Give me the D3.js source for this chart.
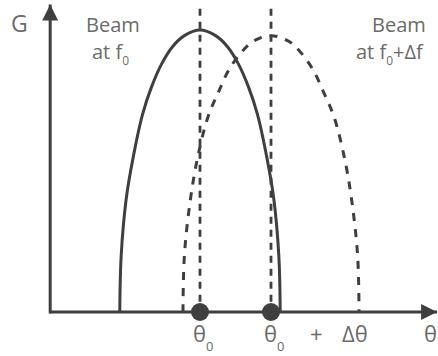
<!DOCTYPE html>
<html>
<head>
<meta charset="utf-8">
<script src="https://cdn.jsdelivr.net/npm/d3@7"></script>
<style>
  body { margin: 0; background: #fff; }
  svg { display: block; }
  text { font-family: "Open Sans", "DejaVu Sans", sans-serif; fill: #6b6b6b; }
</style>
</head>
<body>
<div id="chart"></div>
<script>
// beam at f0 (solid) - theta in units of delta theta, theta0 = 0
var beamTheta = [-1.13, -1.11, -1.04, -0.94, -0.81, -0.68, -0.54, -0.39, -0.22, 0, 0.22, 0.39, 0.54, 0.68, 0.81, 0.94, 1.04, 1.11, 1.13];
var beamGain  = [0, 0.2, 0.4, 0.55, 0.7, 0.8, 0.88, 0.94, 0.98, 1.0, 0.98, 0.94, 0.88, 0.8, 0.7, 0.55, 0.4, 0.2, 0];

// beam at f0 + delta f (dashed)
var shiftTheta = [-0.24, -0.22, -0.14, -0.04, 0.11, 0.26, 0.41, 0.58, 0.75, 1.0, 1.25, 1.42, 1.59, 1.74, 1.89, 2.04, 2.14, 2.22, 2.24];
var shiftGain  = [0, 0.2, 0.39, 0.54, 0.69, 0.78, 0.86, 0.92, 0.96, 0.98, 0.96, 0.92, 0.86, 0.78, 0.69, 0.54, 0.39, 0.2, 0];

// beam directions
var peakTheta = [0, 1];
var tickLabels = ["θ", "θ"];

var width = 438, height = 356;

var x = d3.scaleLinear().domain([0, 1]).range([200, 271]);
var y = d3.scaleLinear().domain([0, 1]).range([312, 30]);

var thetaMin = -2.11, thetaMax = 3.34, gainMax = 1.08;
var ink = "#3f3f3f";

var svg = d3.select("#chart").append("svg")
    .attr("width", width)
    .attr("height", height);

// arrow heads
var defs = svg.append("defs");
defs.append("marker")
    .attr("id", "arrow")
    .attr("viewBox", "0 0 10 10")
    .attr("refX", 10).attr("refY", 5)
    .attr("markerWidth", 17).attr("markerHeight", 16)
    .attr("markerUnits", "userSpaceOnUse")
    .attr("orient", "auto")
    .append("path")
    .attr("d", "M0,0 L10,5 L0,10 Z")
    .attr("fill", ink);

// axes
svg.append("line")
    .attr("x1", x(thetaMin)).attr("y1", y(0))
    .attr("x2", x(thetaMax)).attr("y2", y(0))
    .attr("stroke", ink).attr("stroke-width", 3)
    .attr("marker-end", "url(#arrow)");

svg.append("line")
    .attr("x1", x(thetaMin)).attr("y1", y(0) + 1.5)
    .attr("x2", x(thetaMin)).attr("y2", y(gainMax + 0.01))
    .attr("stroke", ink).attr("stroke-width", 3)
    .attr("marker-end", "url(#arrow)");

// vertical dotted lines at beam peaks
svg.selectAll(".peak")
    .data(peakTheta)
    .enter().append("line")
    .attr("class", "peak")
    .attr("x1", function(d) { return x(d); })
    .attr("x2", function(d) { return x(d); })
    .attr("y1", y(1.075))
    .attr("y2", y(0))
    .attr("stroke", ink)
    .attr("stroke-width", 2.8)
    .attr("stroke-dasharray", "7,6");

var line = d3.line()
    .x(function(d) { return x(d[0]); })
    .y(function(d) { return y(d[1]); })
    .curve(d3.curveCatmullRom.alpha(0.5));

svg.append("path")
    .datum(d3.zip(beamTheta, beamGain))
    .attr("d", line)
    .attr("fill", "none")
    .attr("stroke", ink)
    .attr("stroke-width", 3);

svg.append("path")
    .datum(d3.zip(shiftTheta, shiftGain))
    .attr("d", line)
    .attr("fill", "none")
    .attr("stroke", ink)
    .attr("stroke-width", 3)
    .attr("stroke-dasharray", "8,8");

// dots on the theta axis
svg.selectAll(".dot")
    .data(peakTheta)
    .enter().append("circle")
    .attr("class", "dot")
    .attr("cx", function(d) { return x(d); })
    .attr("cy", y(0))
    .attr("r", 9)
    .attr("fill", ink);

// tick labels
var ticks = svg.selectAll(".tick")
    .data(peakTheta)
    .enter().append("text")
    .attr("class", "tick")
    .attr("x", function(d) { return x(d) - 7; })
    .attr("y", 342)
    .style("font-size", "22px");
ticks.append("tspan").text(function(d, i) { return tickLabels[i]; });
ticks.append("tspan")
    .attr("dy", 9)
    .style("font-size", "13px")
    .text("0");

svg.append("text")
    .attr("x", x(1) + 39).attr("y", 342)
    .style("font-size", "22px")
    .text("+");
svg.append("text")
    .attr("x", x(1) + 71).attr("y", 342)
    .style("font-size", "22px")
    .text("Δθ");
svg.append("text")
    .attr("x", 424).attr("y", 342)
    .style("font-size", "22px")
    .text("θ");

svg.append("text")
    .attr("x", 11).attr("y", 32)
    .style("font-size", "23px")
    .text("G");

// beam labels
svg.append("text")
    .attr("x", 86).attr("y", 32)
    .style("font-size", "20px")
    .style("font-weight", 500)
    .text("Beam");
var l1 = svg.append("text")
    .attr("x", 92).attr("y", 59)
    .style("font-size", "20px")
    .style("font-weight", 500);
l1.append("tspan").text("at f");
l1.append("tspan").attr("dy", 6).style("font-size", "12px").text("0");

svg.append("text")
    .attr("x", 372).attr("y", 32)
    .style("font-size", "20px")
    .style("font-weight", 500)
    .text("Beam");
var l2 = svg.append("text")
    .attr("x", 356).attr("y", 59)
    .style("font-size", "20px")
    .style("font-weight", 500);
l2.append("tspan").text("at f");
l2.append("tspan").attr("dy", 6).style("font-size", "12px").text("0");
l2.append("tspan").attr("dy", -6).text("+Δf");
</script>
</body>
</html>
